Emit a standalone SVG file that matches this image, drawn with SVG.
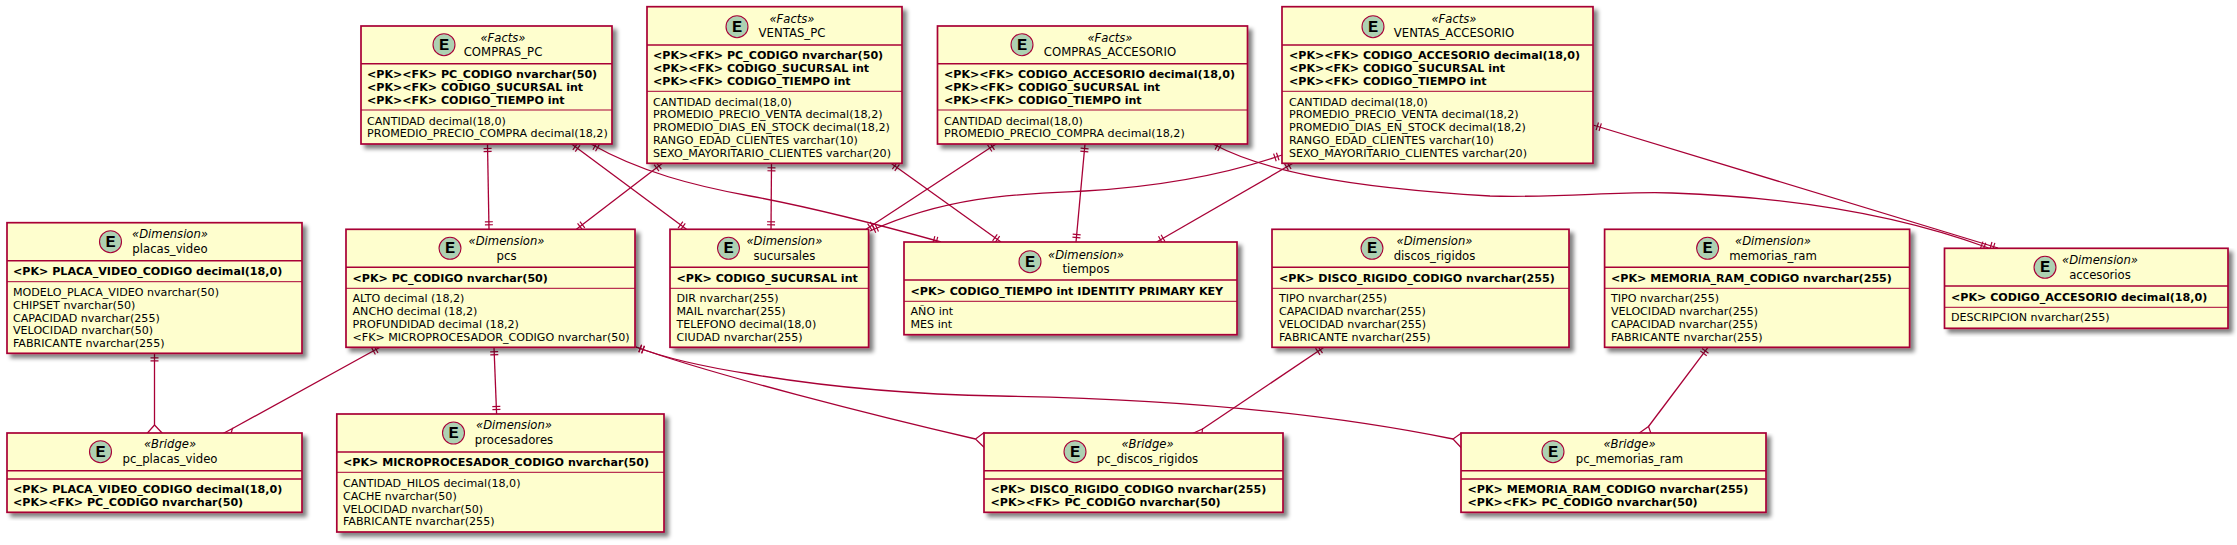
<svg xmlns="http://www.w3.org/2000/svg" width="2237" height="545" viewBox="0 0 2237 545">
<style>
text{font-family:"DejaVu Sans",sans-serif;fill:#000}
.box{fill:#FEFECE;stroke:#A80036;stroke-width:1.7;filter:url(#sh)}
.hl{stroke:#A80036;stroke-width:1.6;fill:none}
.sl{stroke:#A80036;stroke-width:1;fill:none}
.c{fill:#ADD1B2;stroke:#A80036;stroke-width:1.1}
.e{font-family:"Liberation Mono",monospace;font-weight:bold;font-size:17px;text-anchor:middle}
.st{font-size:11.6px;font-style:italic;text-anchor:middle}
.nm{font-size:11.7px;text-anchor:middle}
.b{font-size:11.1px;font-weight:bold}
.n{font-size:11.1px}
.link{fill:none;stroke:#A80036;stroke-width:1.3;marker-start:url(#one)}
.foot{fill:none;stroke:#A80036;stroke-width:1.2}
.one{marker-end:url(#one)}
.m{fill:none;stroke:#A80036;stroke-width:1.2}
</style>
<defs>
<filter id="sh" x="-5%" y="-5%" width="110%" height="115%"><feGaussianBlur in="SourceAlpha" stdDeviation="2.2"/><feOffset dx="4" dy="4"/><feComponentTransfer><feFuncA type="linear" slope="0.5"/></feComponentTransfer><feMerge><feMergeNode/><feMergeNode in="SourceGraphic"/></feMerge></filter>
<marker id="one" markerUnits="userSpaceOnUse" markerWidth="24" markerHeight="24" refX="12" refY="12" orient="auto-start-reverse" overflow="visible"><path class="m" d="M7.5,8V16M4.5,8V16"/></marker>
</defs>
<g id="connectors">
<path class="link one" d="M487.5,144L489,229.3"/>
<path class="link one" d="M571.6,144L686.5,229.3"/>
<path class="link one" d="M591,144C640,172 695,186 750,196C815,208 880,225 941,242"/>
<path class="link one" d="M662.5,163.3L576.4,229.3"/>
<path class="link one" d="M771.5,163.3L771,229.3"/>
<path class="link one" d="M891,163.3L1001,242"/>
<path class="link one" d="M996,144L866,229.3"/>
<path class="link one" d="M1085,144L1076,242"/>
<path class="link one" d="M1213,144C1262,170 1340,187 1490,196C1560,198 1620,191 1672,193C1760,196 1880,208 1988.6,248"/>
<path class="link one" d="M1282,155C1230,173 1170,186 1085,191C1020,194 950,195 870,231"/>
<path class="link one" d="M1293,163.3L1156.6,242"/>
<path class="link one" d="M1593,125L1998,248"/>
<path class="link" d="M154.5,353.3L154.5,425"/>
<path class="foot" d="M147,433.5L154.5,425L162.6,433.5"/>
<path class="link" d="M380,347.3L232.5,428.5"/>
<path class="foot" d="M223,433.5L232.5,428.5L231,433.5"/>
<path class="link one" d="M494,347.3L496.6,414"/>
<path class="link" d="M636,347C710,374 880,417 975.5,439"/>
<path class="foot" d="M984.5,432.3L975.5,439L984.5,447.7"/>
<path class="link" d="M636,347C665,358 705,367 750,374C815,385 890,394 1000,396C1130,398 1300,408 1453,439"/>
<path class="foot" d="M1461.5,433L1453,439L1461.5,448"/>
<path class="link" d="M1324,347.3L1202.5,429"/>
<path class="foot" d="M1192.5,433.5L1202.5,429L1202,433.5"/>
<path class="link" d="M1708,347.3L1648.5,426.5"/>
<path class="foot" d="M1638.6,433.5L1648.5,426.5L1651,433.5"/>
</g>
<g id="COMPRAS_PC">
<rect class="box" x="361" y="26" width="251" height="118"/><path class="hl" d="M361,63.7H612"/><path class="sl" d="M361,110H612"/>
<circle class="c" cx="444" cy="44.7" r="11"/><text class="e" x="444" y="49.7">E</text>
<text class="st" x="503" y="41.5">«Facts»</text><text class="nm" x="503" y="55.7">COMPRAS_PC</text>
<text class="b" x="367" y="78">&lt;PK&gt;&lt;FK&gt; PC_CODIGO nvarchar(50)</text><text class="b" x="367" y="91">&lt;PK&gt;&lt;FK&gt; CODIGO_SUCURSAL int</text><text class="b" x="367" y="104">&lt;PK&gt;&lt;FK&gt; CODIGO_TIEMPO int</text>
<text class="n" x="367" y="125">CANTIDAD decimal(18,0)</text><text class="n" x="367" y="137">PROMEDIO_PRECIO_COMPRA decimal(18,2)</text>
</g>
<g id="VENTAS_PC">
<rect class="box" x="647" y="6.7" width="255" height="156.6"/><path class="hl" d="M647,45H902"/><path class="sl" d="M647,91.3H902"/>
<circle class="c" cx="737" cy="26.7" r="11"/><text class="e" x="737" y="31.7">E</text>
<text class="st" x="792" y="22.5">«Facts»</text><text class="nm" x="792" y="36.7">VENTAS_PC</text>
<text class="b" x="653" y="59">&lt;PK&gt;&lt;FK&gt; PC_CODIGO nvarchar(50)</text><text class="b" x="653" y="72">&lt;PK&gt;&lt;FK&gt; CODIGO_SUCURSAL int</text><text class="b" x="653" y="85">&lt;PK&gt;&lt;FK&gt; CODIGO_TIEMPO int</text>
<text class="n" x="653" y="106">CANTIDAD decimal(18,0)</text><text class="n" x="653" y="118">PROMEDIO_PRECIO_VENTA decimal(18,2)</text><text class="n" x="653" y="131">PROMEDIO_DIAS_EN_STOCK decimal(18,2)</text><text class="n" x="653" y="144">RANGO_EDAD_CLIENTES varchar(10)</text><text class="n" x="653" y="157">SEXO_MAYORITARIO_CLIENTES varchar(20)</text>
</g>
<g id="COMPRAS_ACCESORIO">
<rect class="box" x="937.5" y="26" width="310" height="118"/><path class="hl" d="M937.5,63.7H1247.5"/><path class="sl" d="M937.5,110H1247.5"/>
<circle class="c" cx="1022" cy="44.7" r="11"/><text class="e" x="1022" y="49.7">E</text>
<text class="st" x="1110" y="41.5">«Facts»</text><text class="nm" x="1110" y="55.7">COMPRAS_ACCESORIO</text>
<text class="b" x="944" y="78">&lt;PK&gt;&lt;FK&gt; CODIGO_ACCESORIO decimal(18,0)</text><text class="b" x="944" y="91">&lt;PK&gt;&lt;FK&gt; CODIGO_SUCURSAL int</text><text class="b" x="944" y="104">&lt;PK&gt;&lt;FK&gt; CODIGO_TIEMPO int</text>
<text class="n" x="944" y="125">CANTIDAD decimal(18,0)</text><text class="n" x="944" y="137">PROMEDIO_PRECIO_COMPRA decimal(18,2)</text>
</g>
<g id="VENTAS_ACCESORIO">
<rect class="box" x="1282" y="6.7" width="311" height="156.6"/><path class="hl" d="M1282,45H1593"/><path class="sl" d="M1282,91.3H1593"/>
<circle class="c" cx="1373" cy="26.7" r="11"/><text class="e" x="1373" y="31.7">E</text>
<text class="st" x="1454" y="22.5">«Facts»</text><text class="nm" x="1454" y="36.7">VENTAS_ACCESORIO</text>
<text class="b" x="1289" y="59">&lt;PK&gt;&lt;FK&gt; CODIGO_ACCESORIO decimal(18,0)</text><text class="b" x="1289" y="72">&lt;PK&gt;&lt;FK&gt; CODIGO_SUCURSAL int</text><text class="b" x="1289" y="85">&lt;PK&gt;&lt;FK&gt; CODIGO_TIEMPO int</text>
<text class="n" x="1289" y="106">CANTIDAD decimal(18,0)</text><text class="n" x="1289" y="118">PROMEDIO_PRECIO_VENTA decimal(18,2)</text><text class="n" x="1289" y="131">PROMEDIO_DIAS_EN_STOCK decimal(18,2)</text><text class="n" x="1289" y="144">RANGO_EDAD_CLIENTES varchar(10)</text><text class="n" x="1289" y="157">SEXO_MAYORITARIO_CLIENTES varchar(20)</text>
</g>
<g id="placas_video">
<rect class="box" x="7" y="222.7" width="295" height="130.6"/><path class="hl" d="M7,260.7H302"/><path class="sl" d="M7,281.7H302"/>
<circle class="c" cx="110.5" cy="241.7" r="11"/><text class="e" x="110.5" y="246.7">E</text>
<text class="st" x="170" y="238.2">«Dimension»</text><text class="nm" x="170" y="253">placas_video</text>
<text class="b" x="13" y="275">&lt;PK&gt; PLACA_VIDEO_CODIGO decimal(18,0)</text>
<text class="n" x="13" y="296">MODELO_PLACA_VIDEO nvarchar(50)</text><text class="n" x="13" y="309">CHIPSET nvarchar(50)</text><text class="n" x="13" y="322">CAPACIDAD nvarchar(255)</text><text class="n" x="13" y="334">VELOCIDAD nvarchar(50)</text><text class="n" x="13" y="347">FABRICANTE nvarchar(255)</text>
</g>
<g id="pcs">
<rect class="box" x="346" y="229.3" width="289" height="118"/><path class="hl" d="M346,267.3H635"/><path class="sl" d="M346,288.3H635"/>
<circle class="c" cx="450" cy="248.3" r="11"/><text class="e" x="450" y="253.3">E</text>
<text class="st" x="506.5" y="245.2">«Dimension»</text><text class="nm" x="506.5" y="259.7">pcs</text>
<text class="b" x="352.5" y="282.3">&lt;PK&gt; PC_CODIGO nvarchar(50)</text>
<text class="n" x="352.5" y="302.3">ALTO decimal (18,2)</text><text class="n" x="352.5" y="315.3">ANCHO decimal (18,2)</text><text class="n" x="352.5" y="328.3">PROFUNDIDAD decimal (18,2)</text><text class="n" x="352.5" y="341.3">&lt;FK&gt; MICROPROCESADOR_CODIGO nvarchar(50)</text>
</g>
<g id="sucursales">
<rect class="box" x="670" y="229.3" width="198.6" height="118"/><path class="hl" d="M670,267.3H868.6"/><path class="sl" d="M670,288.3H868.6"/>
<circle class="c" cx="728.5" cy="248.3" r="11"/><text class="e" x="728.5" y="253.3">E</text>
<text class="st" x="784.4" y="245.2">«Dimension»</text><text class="nm" x="784.4" y="259.7">sucursales</text>
<text class="b" x="676.5" y="282.3">&lt;PK&gt; CODIGO_SUCURSAL int</text>
<text class="n" x="676.5" y="302.3">DIR nvarchar(255)</text><text class="n" x="676.5" y="315.3">MAIL nvarchar(255)</text><text class="n" x="676.5" y="328.3">TELEFONO decimal(18,0)</text><text class="n" x="676.5" y="341.3">CIUDAD nvarchar(255)</text>
</g>
<g id="tiempos">
<rect class="box" x="904" y="242" width="333" height="92.7"/><path class="hl" d="M904,280H1237"/><path class="sl" d="M904,301.3H1237"/>
<circle class="c" cx="1030" cy="261.7" r="11"/><text class="e" x="1030" y="266.7">E</text>
<text class="st" x="1086" y="258.5">«Dimension»</text><text class="nm" x="1086" y="272.7">tiempos</text>
<text class="b" x="910.5" y="295">&lt;PK&gt; CODIGO_TIEMPO int IDENTITY PRIMARY KEY</text>
<text class="n" x="910.5" y="315.3">AÑO int</text><text class="n" x="910.5" y="328.3">MES int</text>
</g>
<g id="discos_rigidos">
<rect class="box" x="1272" y="229.3" width="297" height="118"/><path class="hl" d="M1272,267.3H1569"/><path class="sl" d="M1272,288.3H1569"/>
<circle class="c" cx="1372" cy="248.3" r="11"/><text class="e" x="1372" y="253.3">E</text>
<text class="st" x="1434.5" y="245.2">«Dimension»</text><text class="nm" x="1434.5" y="259.7">discos_rigidos</text>
<text class="b" x="1279" y="282.3">&lt;PK&gt; DISCO_RIGIDO_CODIGO nvarchar(255)</text>
<text class="n" x="1279" y="302.3">TIPO nvarchar(255)</text><text class="n" x="1279" y="315.3">CAPACIDAD nvarchar(255)</text><text class="n" x="1279" y="328.3">VELOCIDAD nvarchar(255)</text><text class="n" x="1279" y="341.3">FABRICANTE nvarchar(255)</text>
</g>
<g id="memorias_ram">
<rect class="box" x="1604.6" y="229.3" width="305" height="118"/><path class="hl" d="M1604.6,267.3H1909.6"/><path class="sl" d="M1604.6,288.3H1909.6"/>
<circle class="c" cx="1707.6" cy="248.3" r="11"/><text class="e" x="1707.6" y="253.3">E</text>
<text class="st" x="1773" y="245.2">«Dimension»</text><text class="nm" x="1773" y="259.7">memorias_ram</text>
<text class="b" x="1611" y="282.3">&lt;PK&gt; MEMORIA_RAM_CODIGO nvarchar(255)</text>
<text class="n" x="1611" y="302.3">TIPO nvarchar(255)</text><text class="n" x="1611" y="315.3">VELOCIDAD nvarchar(255)</text><text class="n" x="1611" y="328.3">CAPACIDAD nvarchar(255)</text><text class="n" x="1611" y="341.3">FABRICANTE nvarchar(255)</text>
</g>
<g id="accesorios">
<rect class="box" x="1944.5" y="248.3" width="283.5" height="80"/><path class="hl" d="M1944.5,286H2228"/><path class="sl" d="M1944.5,307.3H2228"/>
<circle class="c" cx="2045" cy="267.3" r="11"/><text class="e" x="2045" y="272.3">E</text>
<text class="st" x="2100" y="264.2">«Dimension»</text><text class="nm" x="2100" y="278.7">accesorios</text>
<text class="b" x="1951" y="301">&lt;PK&gt; CODIGO_ACCESORIO decimal(18,0)</text>
<text class="n" x="1951" y="321.3">DESCRIPCION nvarchar(255)</text>
</g>
<g id="pc_placas_video">
<rect class="box" x="7" y="433" width="295" height="79.3"/><path class="hl" d="M7,470.7H302M7,479H302"/>
<circle class="c" cx="100.5" cy="451.7" r="11"/><text class="e" x="100.5" y="456.7">E</text>
<text class="st" x="170" y="448.2">«Bridge»</text><text class="nm" x="170" y="463">pc_placas_video</text>
<text class="b" x="13" y="493">&lt;PK&gt; PLACA_VIDEO_CODIGO decimal(18,0)</text><text class="b" x="13" y="506">&lt;PK&gt;&lt;FK&gt; PC_CODIGO nvarchar(50)</text>
</g>
<g id="procesadores">
<rect class="box" x="336.8" y="414" width="327.2" height="118"/><path class="hl" d="M336.8,452H664"/><path class="sl" d="M336.8,472.3H664"/>
<circle class="c" cx="453.5" cy="433" r="11"/><text class="e" x="453.5" y="438">E</text>
<text class="st" x="514" y="429.2">«Dimension»</text><text class="nm" x="514" y="444">procesadores</text>
<text class="b" x="343" y="466.3">&lt;PK&gt; MICROPROCESADOR_CODIGO nvarchar(50)</text>
<text class="n" x="343" y="487">CANTIDAD_HILOS decimal(18,0)</text><text class="n" x="343" y="500">CACHE nvarchar(50)</text><text class="n" x="343" y="513">VELOCIDAD nvarchar(50)</text><text class="n" x="343" y="525.3">FABRICANTE nvarchar(255)</text>
</g>
<g id="pc_discos_rigidos">
<rect class="box" x="984" y="433" width="299" height="79.3"/><path class="hl" d="M984,470.7H1283M984,479H1283"/>
<circle class="c" cx="1075" cy="451.7" r="11"/><text class="e" x="1075" y="456.7">E</text>
<text class="st" x="1147.5" y="448.2">«Bridge»</text><text class="nm" x="1147.5" y="463">pc_discos_rigidos</text>
<text class="b" x="990.5" y="493">&lt;PK&gt; DISCO_RIGIDO_CODIGO nvarchar(255)</text><text class="b" x="990.5" y="506">&lt;PK&gt;&lt;FK&gt; PC_CODIGO nvarchar(50)</text>
</g>
<g id="pc_memorias_ram">
<rect class="box" x="1461" y="433" width="305" height="79.3"/><path class="hl" d="M1461,470.7H1766M1461,479H1766"/>
<circle class="c" cx="1553" cy="451.7" r="11"/><text class="e" x="1553" y="456.7">E</text>
<text class="st" x="1629.5" y="448.2">«Bridge»</text><text class="nm" x="1629.5" y="463">pc_memorias_ram</text>
<text class="b" x="1467.5" y="493">&lt;PK&gt; MEMORIA_RAM_CODIGO nvarchar(255)</text><text class="b" x="1467.5" y="506">&lt;PK&gt;&lt;FK&gt; PC_CODIGO nvarchar(50)</text>
</g>
</svg>
